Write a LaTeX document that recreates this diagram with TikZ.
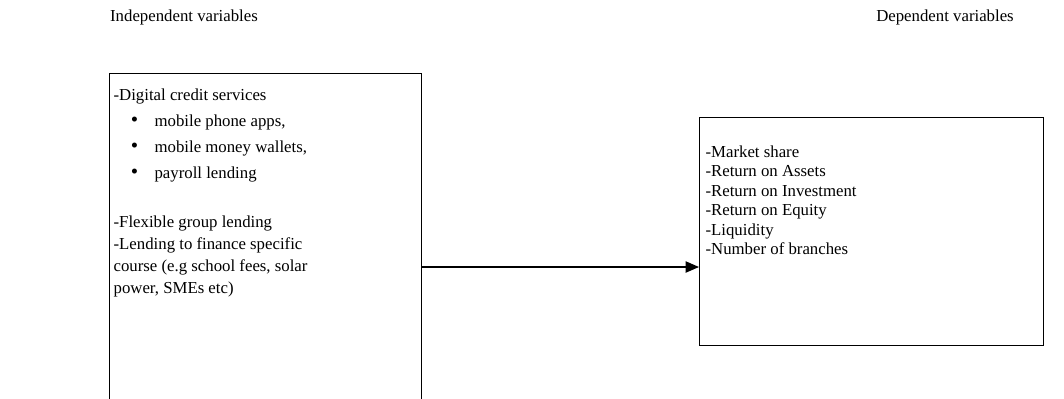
\documentclass[tikz,border=0pt]{standalone}
\usepackage{fontspec}
\setmainfont{Liberation Serif}
\usetikzlibrary{arrows.meta,positioning,calc}

\newcommand{\bulletline}[1]{\hspace*{12.4pt}\makebox[16.9pt][l]{\fontsize{15}{13.9}\selectfont\textbullet}#1}

\begin{document}
\begin{tikzpicture}[
    x=0.715pt, y=-0.715pt,
    title/.style={font=\fontsize{12}{13.9}\selectfont, inner sep=0pt},
    varbox/.style={rectangle, draw, line width=0.8pt, anchor=north west, inner ysep=0pt, font=\fontsize{12}{13.9}\selectfont},
    arrow/.style={-{Triangle[length=9.5pt,width=8pt]}, line width=0.9pt}
]
\clip (0,0) rectangle (1064,398);

% Titles
\node[title] (indep_title) at (184,17) {Independent variables};
\node[title] (dep_title) at (945,17) {Dependent variables};

% Independent variables
\node[varbox, inner xsep=2.9pt] (indep) at (109,73) {\parbox[t][240pt][t]{217pt}{%
    \rule{0pt}{19.1pt}-Digital credit services\\[4.7pt]
    \bulletline{mobile phone apps,}\\[4.7pt]
    \bulletline{mobile money wallets,}\\[4.7pt]
    \bulletline{payroll lending}\\[21.1pt]
    -Flexible group lending\\[1.8pt]
    -Lending to finance specific\\[1.8pt]
    course (e.g school fees, solar\\[1.8pt]
    power, SMEs etc)}};

% Dependent variables
\node[varbox, inner xsep=4.3pt] (dep) at (699,117) {\parbox[t][163pt][t]{237.4pt}{%
    \rule{0pt}{28.4pt}-Market share\\
    -Return on Assets\\
    -Return on Investment\\
    -Return on Equity\\
    -Liquidity\\
    -Number of branches}};

% Arrow
\path (dep.north west) ++(0,150) coordinate (dep_in);
\draw[arrow] (indep.east |- dep_in) -- (dep_in);

\end{tikzpicture}
\end{document}
